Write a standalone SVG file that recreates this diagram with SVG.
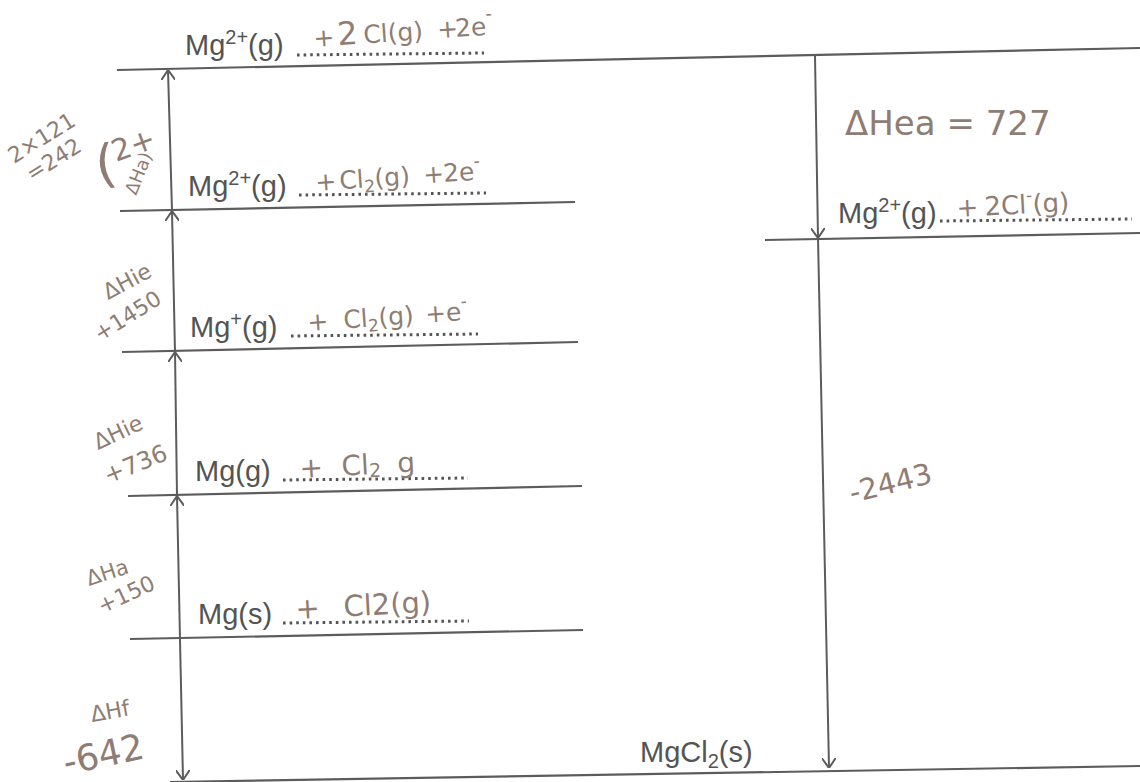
<svg xmlns="http://www.w3.org/2000/svg" width="1140" height="782" viewBox="0 0 1140 782">
<style>
.lvl{stroke:#5c5c5c;stroke-width:2.2;fill:none}
.dot{stroke:#555555;stroke-width:3;stroke-dasharray:2.6 4;fill:none}
.arr{stroke:#5c5c5c;stroke-width:2;fill:none;marker-end:url(#head)}
.sp{font-family:"Liberation Sans",Arial,sans-serif;font-size:29px;fill:#545454}
.hw{font-family:"DejaVu Sans","Liberation Sans",sans-serif;fill:#8f7d73}
</style>
<defs>
<marker id="head" viewBox="0 0 10 14" refX="10" refY="7" markerWidth="10" markerHeight="14" markerUnits="userSpaceOnUse" orient="auto">
<path d="M0,0 L10,7 L0,14" fill="none" stroke="#5c5c5c" stroke-width="2"/>
</marker>
</defs>
<rect width="1140" height="782" fill="#ffffff"/>

<g id="level-top">
<line class="lvl" x1="117" y1="70" x2="1140" y2="48"/>
<text class="sp" x="185" y="55">Mg<tspan font-size="20" dy="-11">2+</tspan><tspan dy="11">(g)</tspan></text>
<line class="dot" x1="297" y1="55" x2="484" y2="53"/>
<text class="hw" font-size="25" transform="translate(314,47) rotate(-4)"><tspan x="0">+</tspan><tspan x="24" font-size="32">2</tspan><tspan x="50">Cl(g)</tspan><tspan x="124">+</tspan><tspan x="142">2e</tspan><tspan font-size="18" dy="-15">-</tspan></text>
</g>

<g id="level-2">
<line class="lvl" x1="120" y1="211" x2="575" y2="202"/>
<text class="sp" x="188" y="196">Mg<tspan font-size="20" dy="-11">2+</tspan><tspan dy="11">(g)</tspan></text>
<line class="dot" x1="299" y1="195" x2="486" y2="193"/>
<text class="hw" font-size="25" transform="translate(316,191) rotate(-4)"><tspan x="0">+</tspan><tspan x="24">Cl</tspan><tspan font-size="17" dy="5">2</tspan><tspan dy="-5">(g)</tspan><tspan x="108">+</tspan><tspan x="128">2e</tspan><tspan font-size="17" dy="-13">-</tspan></text>
</g>

<g id="level-3">
<line class="lvl" x1="122" y1="352" x2="578" y2="342"/>
<text class="sp" x="190" y="337">Mg<tspan font-size="20" dy="-11">+</tspan><tspan dy="11">(g)</tspan></text>
<line class="dot" x1="291" y1="336" x2="478" y2="334"/>
<text class="hw" font-size="25" transform="translate(308,331) rotate(-4)"><tspan x="0">+</tspan><tspan x="36">Cl</tspan><tspan font-size="17" dy="5">2</tspan><tspan dy="-5">(g)</tspan><tspan x="118">+e</tspan><tspan font-size="17" dy="-13">-</tspan></text>
</g>

<g id="level-4">
<line class="lvl" x1="128" y1="496" x2="582" y2="486"/>
<text class="sp" x="195" y="481">Mg(g)</text>
<line class="dot" x1="283" y1="480" x2="468" y2="478"/>
<text class="hw" font-size="28" transform="translate(300,478) rotate(-3)"><tspan x="0">+</tspan><tspan x="42">Cl</tspan><tspan font-size="19" dy="3">2</tspan><tspan x="98" dy="-3">g</tspan></text>
</g>

<g id="level-5">
<line class="lvl" x1="130" y1="639" x2="583" y2="630"/>
<text class="sp" x="198" y="624">Mg(s)</text>
<line class="dot" x1="283" y1="623" x2="469" y2="621"/>
<text class="hw" font-size="29" transform="translate(296,619) rotate(-3)"><tspan x="0">+</tspan><tspan x="48">Cl2(g)</tspan></text>
</g>

<g id="level-bottom">
<line class="lvl" x1="170" y1="782" x2="1140" y2="766"/>
<text class="sp" x="640" y="762">MgCl<tspan font-size="20" dy="6">2</tspan><tspan dy="-6">(s)</tspan></text>
</g>

<g id="level-right">
<line class="lvl" x1="765" y1="240" x2="1140" y2="233"/>
<text class="sp" x="838" y="223">Mg<tspan font-size="20" dy="-11">2+</tspan><tspan dy="11">(g)</tspan></text>
<line class="dot" x1="940" y1="221" x2="1132" y2="219"/>
<text class="hw" font-size="26" transform="translate(957,217) rotate(-3)"><tspan x="0">+</tspan><tspan x="28">2Cl</tspan><tspan font-size="17" dy="-12">-</tspan><tspan dy="12">(g)</tspan></text>
</g>

<g id="connectors">
<path class="arr" d="M180,639 L177,496"/>
<path class="arr" d="M177,496 L175,352"/>
<path class="arr" d="M175,352 L172,211"/>
<path class="arr" d="M172,211 L168,70"/>
<path class="arr" d="M180,639 L183,780"/>
<path class="arr" d="M815,56 L818,238"/>
<path class="arr" d="M818,238 L829,768"/>
</g>

<g id="labels">
<text class="hw" font-size="34" x="845" y="135">ΔHea = 727</text>
<text class="hw" font-size="29" transform="translate(852,503) rotate(-14)">-2443</text>
<text class="hw" font-size="22" transform="translate(14,164) rotate(-32)">2×121</text>
<text class="hw" font-size="22" transform="translate(32,182) rotate(-32)">=242</text>
<text class="hw" font-size="52" transform="translate(98,183) rotate(-8)">(</text>
<text class="hw" font-size="30" transform="translate(116,162) rotate(-20)">2+</text>
<text class="hw" font-size="18" transform="translate(136,196) rotate(-68)">ΔHa)</text>
<text class="hw" font-size="22" transform="translate(108,300) rotate(-28)">ΔHie</text>
<text class="hw" font-size="22" transform="translate(100,342) rotate(-32)">+1450</text>
<text class="hw" font-size="22" transform="translate(98,450) rotate(-25)">ΔHie</text>
<text class="hw" font-size="24" transform="translate(108,484) rotate(-22)">+736</text>
<text class="hw" font-size="21" transform="translate(89,586) rotate(-18)">ΔHa</text>
<text class="hw" font-size="22" transform="translate(102,614) rotate(-25)">+150</text>
<text class="hw" font-size="22" transform="translate(92,722) rotate(-10)">ΔHf</text>
<text class="hw" font-size="36" transform="translate(66,775) rotate(-12)">-642</text>
</g>
</svg>
